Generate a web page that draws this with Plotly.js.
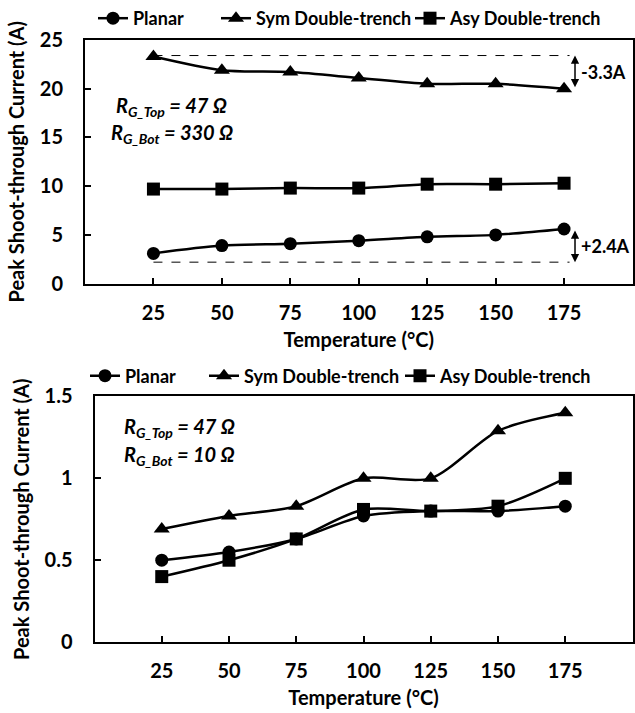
<!DOCTYPE html>
<html>
<head>
<meta charset="utf-8">
<script src="https://cdn.plot.ly/plotly-3.0.1.min.js"></script>
<style>html,body{margin:0;padding:0;background:#fff;}#chart{width:635px;height:713px;}</style>
</head>
<body>
<div id="chart"></div>
<script>
// ---- data ----
const temps = [25, 50, 75, 100, 125, 150, 175];
const seriesNames = ['Planar', 'Sym Double-trench', 'Asy Double-trench'];
// Top chart: R_G_Top = 47 ohm, R_G_Bot = 330 ohm
const planarTop = [3.1, 3.9, 4.1, 4.4, 4.8, 5.0, 5.6];
const symTop    = [23.3, 21.9, 21.7, 21.1, 20.5, 20.5, 20.0];
const asyTop    = [9.7, 9.7, 9.8, 9.8, 10.2, 10.2, 10.3];
// Bottom chart: R_G_Top = 47 ohm, R_G_Bot = 10 ohm
const planarBot = [0.50, 0.55, 0.63, 0.77, 0.80, 0.80, 0.83];
const symBot    = [0.69, 0.77, 0.83, 1.00, 1.00, 1.29, 1.40];
const asyBot    = [0.40, 0.50, 0.63, 0.81, 0.80, 0.83, 1.00];
// reference levels and deltas in top chart
const refLevels = [23.4, 2.2];
const deltaLabels = ['-3.3A', '+2.4A'];
const yTicksTop = [0, 5, 10, 15, 20, 25];
const yTicksBot = [0, 0.5, 1, 1.5];
const yTickTextBot = ['0', '0.5', '1', '1.5'];
const rTextTop = ['47 Ω', '330 Ω'];
const rTextBot = ['47 Ω', '10 Ω'];

// ---- style ----
const FONT = 'Lato, "Open Sans", sans-serif';
const symbols = ['circle', 'triangle-up', 'square'];
const msize = [13, 14, 13];

function mk(x, y, i, xa, ya, leg) {
  return {
    x: x, y: y, name: seriesNames[i], type: 'scatter', mode: 'lines+markers',
    xaxis: xa, yaxis: ya, legend: leg,
    line: {color: '#000', width: 2.5, shape: 'spline', smoothing: 0.8},
    marker: {symbol: symbols[i], size: msize[i], color: '#000'},
    cliponaxis: false
  };
}

const traces = [
  mk(temps, planarTop, 0, 'x', 'y', 'legend'),
  mk(temps, symTop, 1, 'x', 'y', 'legend2'),
  mk(temps, asyTop, 2, 'x', 'y', 'legend3'),
  mk(temps, planarBot, 0, 'x2', 'y2', 'legend4'),
  mk(temps, symBot, 1, 'x2', 'y2', 'legend5'),
  mk(temps, asyBot, 2, 'x2', 'y2', 'legend6')
];

const tf = {family: FONT, size: 20, color: '#000', weight: 700};
const lf = {family: FONT, size: 18, color: '#000', weight: 700};

function xax(domain, anchor) {
  return {
    domain: domain, anchor: anchor, range: [0, 200],
    tickvals: temps, ticktext: temps.map(String),
    ticks: 'inside', ticklen: 6, tickwidth: 2, tickcolor: '#000',
    showline: true, linewidth: 2, linecolor: '#000', mirror: true,
    showgrid: false, zeroline: false, fixedrange: true,
    tickfont: tf, ticklabelstandoff: 10,
    title: {text: '<b>Temperature (°C)</b>', font: tf, standoff: 10}
  };
}
function yax(domain, anchor, range, tv, tt) {
  return {
    domain: domain, anchor: anchor, range: range,
    tickvals: tv, ticktext: tt,
    ticks: 'inside', ticklen: 6, tickwidth: 2, tickcolor: '#000',
    showline: true, linewidth: 2, linecolor: '#000', mirror: true,
    showgrid: false, zeroline: false, fixedrange: true,
    tickfont: tf, ticklabelstandoff: 16,
    title: {text: '<b>Peak Shoot-through Current (A)</b>', font: tf, standoff: 10}
  };
}

function leg(x, y) {
  return {x: x, y: y, xanchor: 'left', yanchor: 'middle', orientation: 'h',
          bgcolor: 'rgba(0,0,0,0)', borderwidth: 0, font: lf, itemwidth: 30};
}

const shapes = refLevels.map(v => ({
  type: 'line', xref: 'x', yref: 'y', x0: temps[0], x1: 177, y0: v, y1: v,
  line: {color: '#000', width: 1, dash: 'dash'}
}));

const annFont = {family: FONT, size: 20, color: '#000', weight: 700, style: 'italic'};
const annotations = [
  // double-headed arrows
  {xref: 'x', yref: 'y', axref: 'x', ayref: 'y', x: 179, y: refLevels[0], ax: 179, ay: symTop[6],
   text: '', showarrow: true, arrowhead: 2, startarrowhead: 2, arrowside: 'end+start', arrowwidth: 1.5, arrowsize: 1.1, arrowcolor: '#000'},
  {xref: 'x', yref: 'y', axref: 'x', ayref: 'y', x: 179, y: refLevels[1], ax: 179, ay: planarTop[6],
   text: '', showarrow: true, arrowhead: 2, startarrowhead: 2, arrowside: 'end+start', arrowwidth: 1.5, arrowsize: 1.1, arrowcolor: '#000'},
  {xref: 'x', yref: 'y', x: 180.5, y: (refLevels[0] + symTop[6]) / 2, text: '<b>' + deltaLabels[0] + '</b>',
   showarrow: false, xanchor: 'left', yanchor: 'middle', font: {family: FONT, size: 18, color: '#000'}},
  {xref: 'x', yref: 'y', x: 180.5, y: (refLevels[1] + planarTop[6]) / 2, text: '<b>' + deltaLabels[1] + '</b>',
   showarrow: false, xanchor: 'left', yanchor: 'middle', font: {family: FONT, size: 18, color: '#000'}},
  // resistor labels
  {xref: 'paper', yref: 'paper', x: 114 / 635, y: 1 - 106 / 713, xanchor: 'left', yanchor: 'middle', showarrow: false,
   text: '<b><i>R<sub>G_Top</sub> = ' + rTextTop[0] + '</i></b>', font: annFont},
  {xref: 'paper', yref: 'paper', x: 109 / 635, y: 1 - 133 / 713, xanchor: 'left', yanchor: 'middle', showarrow: false,
   text: '<b><i>R<sub>G_Bot</sub> = ' + rTextTop[1] + '</i></b>', font: annFont},
  {xref: 'paper', yref: 'paper', x: 122 / 635, y: 1 - 427 / 713, xanchor: 'left', yanchor: 'middle', showarrow: false,
   text: '<b><i>R<sub>G_Top</sub> = ' + rTextBot[0] + '</i></b>', font: annFont},
  {xref: 'paper', yref: 'paper', x: 122 / 635, y: 1 - 455 / 713, xanchor: 'left', yanchor: 'middle', showarrow: false,
   text: '<b><i>R<sub>G_Bot</sub> = ' + rTextBot[1] + '</i></b>', font: annFont}
];

const layout = {
  width: 635, height: 713,
  margin: {l: 0, r: 0, t: 0, b: 0},
  paper_bgcolor: '#fff', plot_bgcolor: '#fff',
  font: {family: FONT, color: '#000'},
  showlegend: true,
  xaxis: xax([85 / 635, 632.5 / 635], 'y'),
  yaxis: yax([1 - 283 / 713, 1 - 39 / 713], 'x', [0, 25], yTicksTop, yTicksTop.map(String)),
  xaxis2: xax([94.5 / 635, 632.5 / 635], 'y2'),
  yaxis2: yax([1 - 642 / 713, 1 - 396 / 713], 'x2', [0, 1.5], yTicksBot, yTickTextBot),
  legend: leg(93 / 635, 1 - 18 / 713),
  legend2: leg(216 / 635, 1 - 18 / 713),
  legend3: leg(410 / 635, 1 - 18 / 713),
  legend4: leg(85 / 635, 1 - 376 / 713),
  legend5: leg(204 / 635, 1 - 376 / 713),
  legend6: leg(400 / 635, 1 - 376 / 713),
  shapes: shapes,
  annotations: annotations
};

Plotly.newPlot('chart', traces, layout, {displayModeBar: false, staticPlot: true});
</script>
</body>
</html>
